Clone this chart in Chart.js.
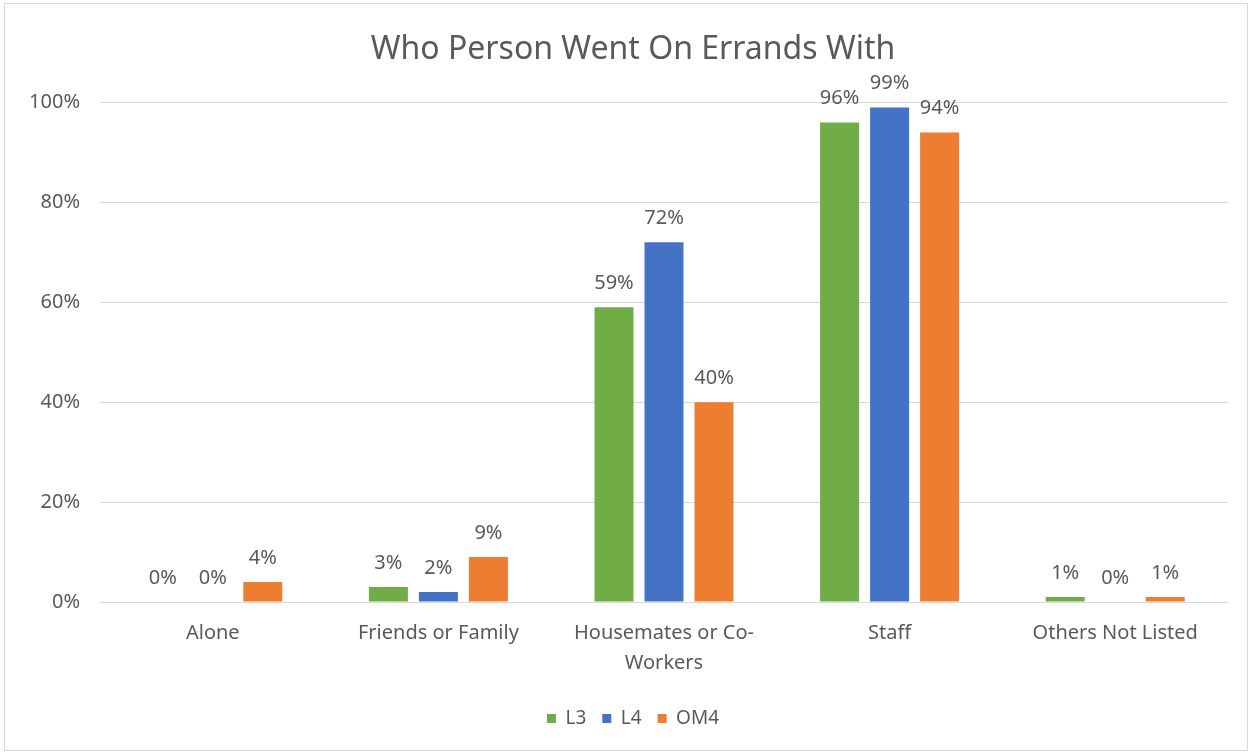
<!DOCTYPE html>
<html>
<head>
<meta charset="utf-8">
<script src="https://cdn.jsdelivr.net/npm/chart.js@4.4.0/dist/chart.umd.min.js"></script>
<style>
  html, body { margin: 0; padding: 0; background: #ffffff; }
  #wrap { position: absolute; left: 0; top: 0; width: 1252px; height: 754px; }
</style>
</head>
<body>
<div id="wrap"><canvas id="chart" width="1252" height="754"></canvas></div>
<script>
// Categories and series (percent)
const categories = ['Alone', 'Friends or Family', 'Housemates or Co-Workers', 'Staff', 'Others Not Listed'];
const seriesL3 = [0, 3, 59, 96, 1];
const seriesL4 = [0, 2, 72, 99, 0];
const seriesOM4 = [4, 9, 40, 94, 1];
const yTicks = [0, 20, 40, 60, 80, 100];

const FONT = "'Noto Sans', 'Open Sans', sans-serif";
const TEXT = '#595959';

// Wrap long category names onto two lines
function wrapLabel(s) {
  if (s === 'Housemates or Co-Workers') return ['Housemates or Co-', 'Workers'];
  return s;
}

// Outer frame around the whole chart
const framePlugin = {
  id: 'frame',
  beforeDraw(chart) {
    const c = chart.ctx;
    c.save();
    c.fillStyle = '#ffffff';
    c.fillRect(0, 0, chart.width, chart.height);
    c.strokeStyle = '#d9d9d9';
    c.lineWidth = 1;
    c.strokeRect(4.5, 3.5, 1243, 747);
    c.restore();
  }
};

// Value labels above each bar
const valueLabels = {
  id: 'valueLabels',
  afterDatasetsDraw(chart) {
    const c = chart.ctx;
    c.save();
    c.font = '20px ' + FONT;
    c.fillStyle = TEXT;
    c.textAlign = 'center';
    c.textBaseline = 'middle';
    chart.data.datasets.forEach((ds, i) => {
      const meta = chart.getDatasetMeta(i);
      meta.data.forEach((bar, j) => {
        c.fillText(Math.round(ds.data[j]) + '%', bar.x, bar.y - 24);
      });
    });
    c.restore();
  }
};

new Chart(document.getElementById('chart'), {
  type: 'bar',
  data: {
    labels: categories.map(wrapLabel),
    datasets: [
      { label: 'L3', data: seriesL3, backgroundColor: '#70ad47' },
      { label: 'L4', data: seriesL4, backgroundColor: '#4472c4' },
      { label: 'OM4', data: seriesOM4, backgroundColor: '#ed7d31' }
    ]
  },
  options: {
    responsive: false,
    animation: false,
    categoryPercentage: 0.665,
    barPercentage: 0.78,
    layout: { padding: { left: 14, right: 0, top: 13, bottom: 16 } },
    plugins: {
      title: {
        display: true,
        text: 'Who Person Went On Errands With',
        color: TEXT,
        font: { family: FONT, size: 32, weight: 'normal', lineHeight: 1.2 },
        padding: { top: 18, bottom: 33 }
      },
      legend: {
        position: 'bottom',
        labels: {
          color: TEXT,
          font: { family: FONT, size: 19 },
          usePointStyle: true,
          pointStyle: 'rect',
          boxWidth: 9,
          boxHeight: 9,
          padding: 16
        }
      },
      tooltip: { enabled: false }
    },
    scales: {
      x: {
        grid: { display: false, drawTicks: false },
        border: { display: false },
        afterFit(scale) { scale.height -= 1; },
        ticks: {
          color: TEXT,
          font: { family: FONT, size: 20, lineHeight: 1.5 },
          padding: 16,
          maxRotation: 0,
          autoSkip: false
        }
      },
      y: {
        min: 0,
        max: 100,
        afterBuildTicks(scale) { scale.ticks = yTicks.map(v => ({ value: v })); },
        afterFit(scale) { scale.width = 86; },
        grid: { color: '#d9d9d9', lineWidth: 1, drawTicks: false },
        border: { display: false },
        ticks: {
          color: TEXT,
          font: { family: FONT, size: 20 },
          padding: 20,
          callback: v => v + '%'
        }
      },
      // empty right-hand margin beside the plot
      yRight: {
        type: 'linear',
        position: 'right',
        afterFit(scale) { scale.width = 24; },
        grid: { display: false, drawTicks: false },
        border: { display: false },
        ticks: { display: false }
      }
    }
  },
  plugins: [framePlugin, valueLabels]
});
</script>
</body>
</html>
